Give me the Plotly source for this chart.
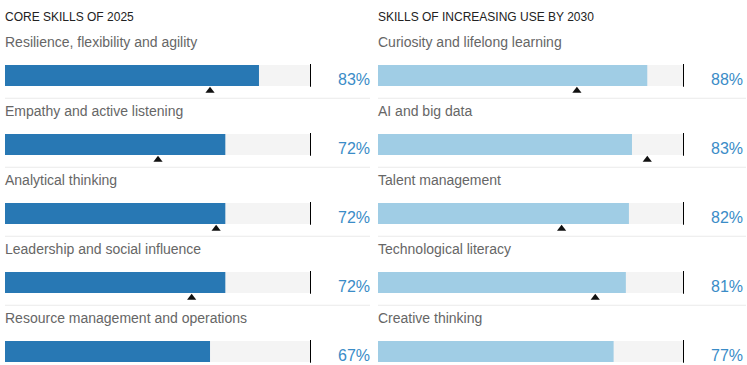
import plotly.graph_objects as go

# data
left_title = "CORE SKILLS OF 2025"
left_skills = ["Resilience, flexibility and agility", "Empathy and active listening",
               "Analytical thinking", "Leadership and social influence",
               "Resource management and operations"]
left_values = [83, 72, 72, 72, 67]
left_markers = [67, 50, 69, 61, 41]

right_title = "SKILLS OF INCREASING USE BY 2030"
right_skills = ["Curiosity and lifelong learning", "AI and big data", "Talent management",
                "Technological literacy", "Creative thinking"]
right_values = [88, 83, 82, 81, 77]
right_markers = [65, 88, 60, 71, 68]

rows = list(range(len(left_skills)))

W, H = 747, 365
FONT = "Liberation Sans, Arial, Helvetica, sans-serif"
BAR_W = 0.304

fig = go.Figure()

panels = [
    dict(xa="x", domain=[5 / W, 311 / W], text_x=3 / W, title=left_title, skills=left_skills,
         values=left_values, markers=left_markers, color="#2878b4", pct_x=372 / W,
         sep=[5 / W, 370 / W]),
    dict(xa="x2", domain=[378 / W, 684 / W], text_x=376 / W, title=right_title, skills=right_skills,
         values=right_values, markers=right_markers, color="#a0cde5", pct_x=745 / W,
         sep=[378 / W, 746 / W]),
]

shapes = []
annotations = []

for p in panels:
    # grey track behind each bar
    fig.add_trace(go.Bar(x=[100] * len(rows), y=rows, orientation="h", width=BAR_W,
                         marker=dict(color="#f4f4f4", line=dict(width=0)),
                         xaxis=p["xa"], yaxis="y", hoverinfo="skip", showlegend=False))
    fig.add_trace(go.Bar(x=p["values"], y=rows, orientation="h", width=BAR_W,
                         marker=dict(color=p["color"], line=dict(width=0)),
                         xaxis=p["xa"], yaxis="y", showlegend=False))
    fig.add_trace(go.Scatter(x=p["markers"], y=[r + 0.22 for r in rows], mode="markers",
                             marker=dict(symbol="triangle-up", size=8, color="#111"),
                             xaxis=p["xa"], yaxis="y", showlegend=False, cliponaxis=False))
    for r in rows:
        # end line at 100%
        shapes.append(dict(type="line", xref=p["xa"], yref="y", x0=100, x1=100,
                           y0=r - 0.165, y1=r + 0.165, line=dict(color="#000", width=2)))
        if r < len(rows) - 1:
            shapes.append(dict(type="line", xref="paper", yref="y", x0=p["sep"][0], x1=p["sep"][1],
                               y0=r + 0.33, y1=r + 0.33, line=dict(color="#eaeaea", width=1)))
        annotations.append(dict(text=p["skills"][r], xref="paper", yref="y",
                                x=p["text_x"], y=r - 0.485, xanchor="left", yanchor="middle",
                                showarrow=False, font=dict(size=14, color="#666", family=FONT)))
        annotations.append(dict(text=f"{p['values'][r]}%", xref="paper", yref="y",
                                x=p["pct_x"], y=r + 0.06, xanchor="right", yanchor="middle",
                                showarrow=False, font=dict(size=16, color="#3a8cc7", family=FONT)))
    annotations.append(dict(text=p["title"], xref="paper", yref="y", x=p["text_x"],
                            y=-0.848, xanchor="left", yanchor="middle", showarrow=False,
                            font=dict(size=12, color="#222", family=FONT)))

axis_common = dict(range=[0, 100], showgrid=False, zeroline=False, showticklabels=False,
                   ticks="", fixedrange=True)

fig.update_layout(
    width=W, height=H,
    margin=dict(l=0, r=0, t=0, b=0),
    paper_bgcolor="white", plot_bgcolor="white",
    barmode="overlay",
    xaxis=dict(domain=panels[0]["domain"], anchor="y", **axis_common),
    xaxis2=dict(domain=panels[1]["domain"], anchor="y", **axis_common),
    yaxis=dict(range=[4.196, -1.094], showgrid=False, zeroline=False, showticklabels=False,
               ticks="", fixedrange=True),
    shapes=shapes,
    annotations=annotations,
    font=dict(family=FONT),
)

# page has a default 8px body margin; drop it so the chart fills the window
fig.write_html("out.html", config={"displayModeBar": False},
               post_script="document.body.style.margin='0';document.body.style.overflow='hidden';")
